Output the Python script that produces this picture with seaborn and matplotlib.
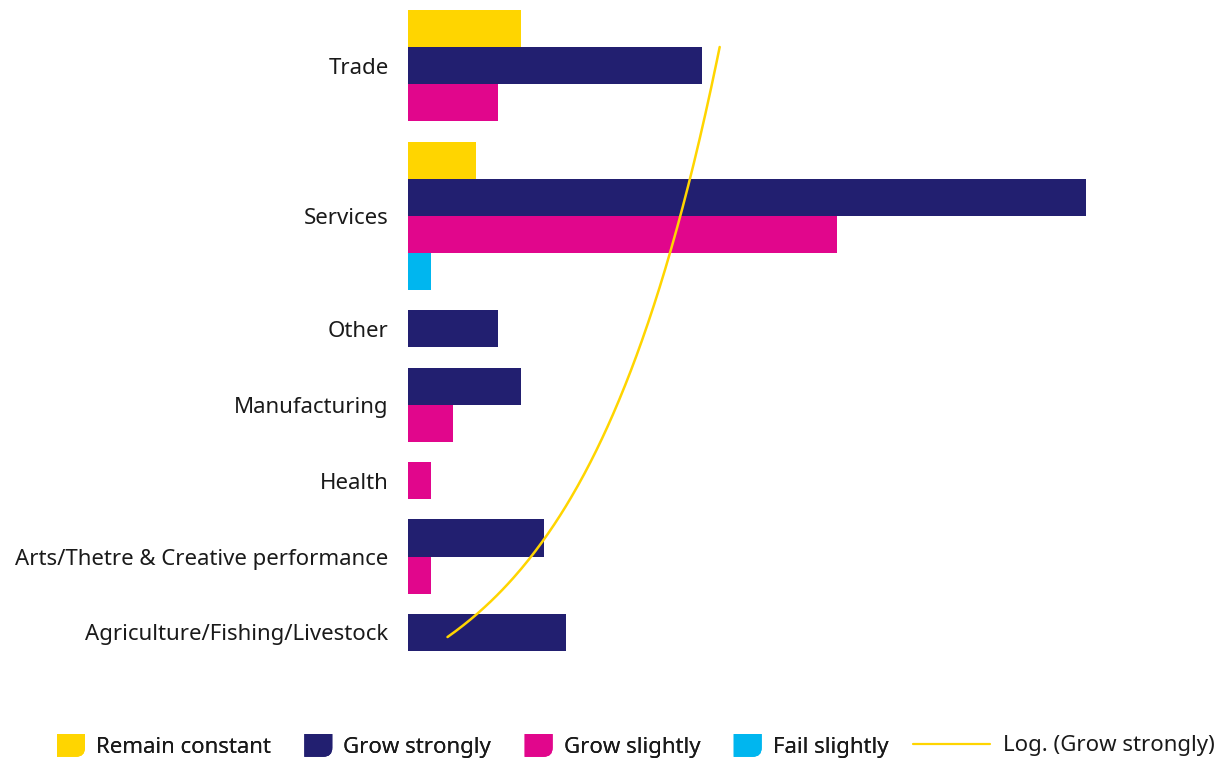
import numpy as np
import pandas as pd
import matplotlib
matplotlib.use("Agg")
import matplotlib.pyplot as plt
import seaborn as sns
from matplotlib.patches import Patch, PathPatch
from matplotlib.path import Path
from matplotlib.lines import Line2D
from matplotlib.legend_handler import HandlerPatch

# Sectors listed top to bottom
sectors = ["Trade", "Services", "Other", "Manufacturing", "Health",
           "Arts/Thetre & Creative performance", "Agriculture/Fishing/Livestock"]
series = ["Remain constant", "Grow strongly", "Grow slightly", "Fail slightly"]

remain_constant = [5, 3, 0, 0, 0, 0, 0]
grow_strongly = [13, 30, 4, 5, 0, 6, 7]
grow_slightly = [4, 19, 0, 2, 1, 1, 0]
fail_slightly = [0, 1, 0, 0, 0, 0, 0]

palette = {
    "Remain constant": "#FFD500",
    "Grow strongly": "#221F70",
    "Grow slightly": "#E1068C",
    "Fail slightly": "#00B6EF",
}
trend_color = "#FFD500"

sns.set_theme(style="white")
plt.rcParams["font.family"] = ["Noto Sans", "DejaVu Sans"]
plt.rcParams["text.color"] = "#1a1a1a"

FONT = 16

# Stack the non-empty bars of each sector next to each other, with a gap between sectors
GROUP_GAP = 0.55
rows, centers = [], []
pos = 0.0
for i, sector in enumerate(sectors):
    vals = [remain_constant[i], grow_strongly[i], grow_slightly[i], fail_slightly[i]]
    start = pos
    for name, v in zip(series, vals):
        if v > 0:
            rows.append({"sector": sector, "series": name, "value": v, "slot": pos})
            pos += 1
    centers.append((start + pos - 1) / 2)
    pos += GROUP_GAP
extent = pos - GROUP_GAP
df = pd.DataFrame(rows)

fig = plt.figure(figsize=(12.19, 7.61), dpi=100)
ax = fig.add_axes([408 / 1219, 1 - 651 / 761, (1199 - 408) / 1219, 641 / 761])

sns.barplot(data=df, x="value", y="slot", hue="series", hue_order=series,
            palette=palette, orient="y", native_scale=True, dodge=False,
            width=1.0, saturation=1, linewidth=0, legend=False, ax=ax)

ax.set_xlim(0, 35)
ax.set_ylim(extent - 0.5, -0.5)
ax.set_yticks(centers, sectors)
ax.tick_params(axis="y", length=0, pad=14, labelsize=FONT, labelcolor="#1a1a1a")
ax.set_xticks([])
ax.set_xlabel("")
ax.set_ylabel("")
for sp in ax.spines.values():
    sp.set_visible(False)

# Logarithmic trend of "Grow strongly", categories counted from the bottom
idx = np.arange(1, len(sectors) + 1)
gs_bottom_up = np.array(grow_strongly[::-1], dtype=float)
a, b = np.polyfit(np.log(idx), gs_bottom_up, 1)
t = np.linspace(1, len(sectors), 200)
trend = a * np.log(t) + b

ax2 = ax.twinx()
sns.lineplot(x=trend, y=t, sort=False, estimator=None, color=trend_color,
             linewidth=1.8, ax=ax2)
ax2.set_ylim(0.858, 7.376)
ax2.set_xlim(0, 35)
ax2.set_yticks([])
ax2.set_ylabel("")
for sp in ax2.spines.values():
    sp.set_visible(False)


def leaf_patch(legend, orig_handle, xdescent, ydescent, width, height, fontsize):
    x0, y0 = -xdescent, -ydescent
    r = 0.4 * min(width, height)
    verts = [(x0, y0 + height), (x0 + width, y0 + height), (x0 + width, y0 + r),
             (x0 + width, y0), (x0 + width - r, y0), (x0, y0), (x0, y0 + height)]
    codes = [Path.MOVETO, Path.LINETO, Path.LINETO, Path.CURVE3, Path.CURVE3,
             Path.LINETO, Path.CLOSEPOLY]
    return PathPatch(Path(verts, codes))


patch_handles = [Patch(facecolor=palette[s], edgecolor="none", label=s) for s in series]
leg1 = fig.legend(handles=patch_handles, loc="center left",
                  bbox_to_anchor=(57 / 1219, 1 - 746 / 761), ncol=4, frameon=False,
                  fontsize=FONT, handlelength=1.26, handleheight=1.2,
                  handletextpad=0.5, columnspacing=1.5, borderpad=0, borderaxespad=0,
                  handler_map={Patch: HandlerPatch(patch_func=leaf_patch)})
line_handle = Line2D([], [], color=trend_color, linewidth=1.6, label="Log. (Grow strongly)")
leg2 = fig.legend(handles=[line_handle], loc="center left",
                  bbox_to_anchor=(913 / 1219, 1 - 746 / 761), frameon=False,
                  fontsize=FONT, handlelength=3.47, handletextpad=0.59,
                  borderpad=0, borderaxespad=0)
fig.add_artist(leg1)

fig.savefig("out.png", dpi=100)
